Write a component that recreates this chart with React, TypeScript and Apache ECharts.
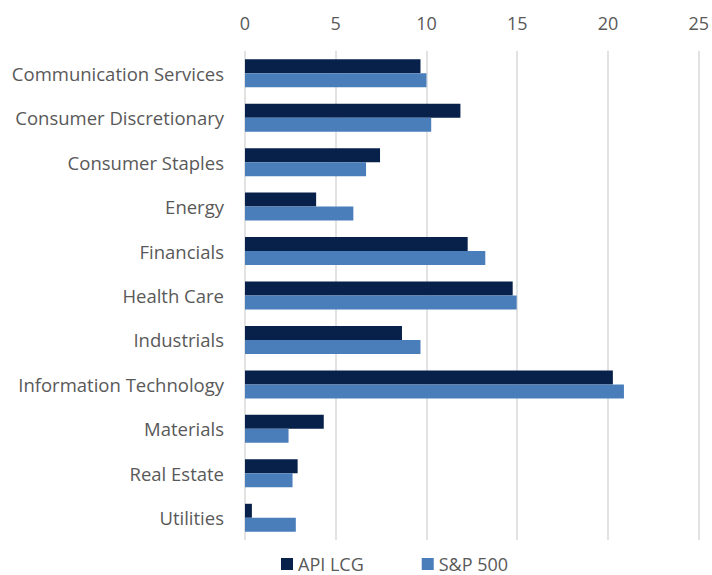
import React, { useEffect, useRef } from "react";
import * as echarts from "echarts";

const categories = [
  "Communication Services",
  "Consumer Discretionary",
  "Consumer Staples",
  "Energy",
  "Financials",
  "Health Care",
  "Industrials",
  "Information Technology",
  "Materials",
  "Real Estate",
  "Utilities",
];
const apiLcg = [9.67, 11.87, 7.44, 3.92, 12.27, 14.75, 8.65, 20.27, 4.34, 2.9, 0.38];
const sp500 = [10.0, 10.26, 6.67, 5.97, 13.24, 14.97, 9.67, 20.88, 2.4, 2.62, 2.8];
const seriesNames = ["API LCG", "S&P 500"];

const FONT = "'Open Sans', 'Noto Sans', sans-serif";

export default function App() {
  const ref = useRef<HTMLDivElement>(null);
  useEffect(() => {
    if (!ref.current) return;
    const chart = echarts.init(ref.current, undefined, { renderer: "svg" });
    chart.setOption({
      animation: false,
      textStyle: { fontFamily: FONT },
      grid: { left: 245, right: 12, top: 51, bottom: 35, containLabel: false },
      legend: {
        top: 549,
        left: 276,
        padding: [5, 5, 5, 5],
        itemWidth: 12,
        itemHeight: 12,
        itemGap: 58,
        icon: "rect",
        textStyle: { fontSize: 18, lineHeight: 20, color: "#595959", fontFamily: FONT },
        data: seriesNames,
      },
      xAxis: {
        type: "value",
        position: "top",
        min: 0,
        max: 25,
        interval: 5,
        axisLine: { show: false },
        axisTick: { show: false },
        axisLabel: { fontSize: 18, color: "#595959", margin: 19, fontFamily: FONT },
        splitLine: { lineStyle: { color: "#D9D9D9", width: 1.5 } },
      },
      yAxis: {
        type: "category",
        inverse: true,
        data: categories,
        axisLine: { show: false },
        axisTick: { show: false },
        axisLabel: { fontSize: 18.5, color: "#595959", margin: 21, fontFamily: FONT },
      },
      series: [
        {
          name: seriesNames[0],
          type: "bar",
          data: apiLcg,
          barWidth: 14,
          barGap: "0%",
          itemStyle: { color: "#08214A" },
        },
        {
          name: seriesNames[1],
          type: "bar",
          data: sp500,
          barWidth: 14,
          barGap: "0%",
          itemStyle: { color: "#4A7EBB" },
        },
      ],
    });
    return () => chart.dispose();
  }, []);
  return (
    <div
      ref={ref}
      style={{ position: "absolute", left: 0, top: 0, width: 712, height: 575 }}
    />
  );
}
